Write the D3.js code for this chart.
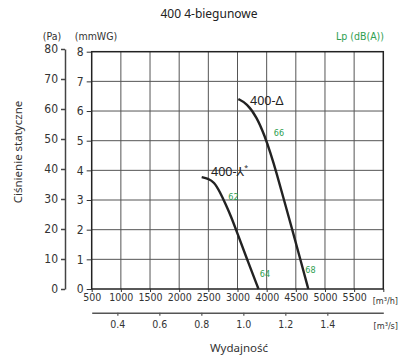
<!DOCTYPE html>
<html><head><meta charset="utf-8">
<script src="https://cdn.jsdelivr.net/npm/d3@7/dist/d3.min.js"></script>
<style>
html,body{margin:0;padding:0;background:#fff;}
svg{display:block;}
.num{font-family:"DejaVu Sans Condensed","DejaVu Sans",sans-serif;}
.lbl{font-family:"Noto Sans","Open Sans",sans-serif;}
</style></head><body>
<svg id="c" width="409" height="360"></svg>
<script>
// ---- data ----
const title = "400 4-biegunowe";
const flowTicks = [1000,1500,2000,2500,3000,3500,4000,4500,5000,5500,6000];
const flowTickLabels = ["500","1000","1500","2000","2500","3000","4000","4500","5000","5500",""];
const flowSecTicks = [0.4,0.6,0.8,1.0,1.2,1.4];
const paTicks = [0,10,20,30,40,50,60,70,80];
const mmTicks = [0,1,2,3,4,5,6,7,8];
// curve 400-Δ : flow m3/h, pressure Pa
const deltaFlow = [3514,3658,3829,3971,4057,4172,4297,4440,4580,4714];
const deltaPa   = [63.3,61.9,57.4,50.8,45.8,38.6,29.7,19.7,9.7,0];
// curve 400-⅄*
const starFlow = [2886,2994,3097,3200,3303,3389,3486,3658,3860];
const starPa   = [37.3,36.8,35.7,32.3,28.0,24.2,19.2,10.2,0];
// noise labels Lp dB(A): flow, Pa
const lpText = ["66","62","64","68"];
const lpFlow = [4212,3431,3971,4752];
const lpPa   = [51.9,30.8,5.2,6.3];

// ---- layout ----
const svg = d3.select("#c");
const L=91.7, R=383.3, B=289, T=51.7;
const txt = "#333", green = "#2e9e50";
const x = d3.scaleLinear().domain([1000,6000]).range([L,R]);
const x2 = d3.scaleLinear().domain([1000/3600,6000/3600]).range([L,R]);
const yPa = d3.scaleLinear().domain([0,80]).range([B,49]);
const yMm = d3.scaleLinear().domain([0,8]).range([B,T]);

// grid
const g = svg.append("g");
g.selectAll("line.v").data(flowTicks.slice(1,-1)).join("line")
  .attr("x1",d=>x(d)).attr("x2",d=>x(d)).attr("y1",T).attr("y2",B)
  .attr("stroke","#555").attr("stroke-width",1);
g.selectAll("line.h").data(mmTicks.slice(1,-1)).join("line")
  .attr("x1",L).attr("x2",R).attr("y1",d=>yMm(d)).attr("y2",d=>yMm(d))
  .attr("stroke","#555").attr("stroke-width",1);
g.append("rect").attr("x",L).attr("y",T).attr("width",R-L).attr("height",B-T)
  .attr("fill","none").attr("stroke","#222").attr("stroke-width",1.5);

// bottom axis (m3/h)
const ax = d3.axisBottom(x).tickValues(flowTicks).tickSize(3).tickPadding(3)
  .tickFormat((d,i)=>flowTickLabels[i]);
const axg = svg.append("g").attr("transform",`translate(0,${B})`).call(ax);
axg.select(".domain").remove();
axg.selectAll(".tick line").attr("stroke","#333");
axg.selectAll("text").attr("class","num").attr("font-size",10.5).style("fill",txt).attr("dy","0.6em");

// secondary axis (m3/s)
const ax2 = d3.axisBottom(x2).tickValues(flowSecTicks).tickSize(3).tickSizeOuter(0).tickPadding(4)
  .tickFormat(d3.format(".1f"));
const ax2g = svg.append("g").attr("transform",`translate(0,312.7)`).call(ax2);
ax2g.select(".domain").attr("stroke","#555").attr("stroke-width",1.5);
ax2g.selectAll(".tick line").attr("stroke","#555").attr("stroke-width",1.2);
ax2g.selectAll("text").attr("class","num").attr("font-size",10.5).style("fill",txt).attr("dy","0.75em");

// mmWG axis
const aym = d3.axisLeft(yMm).tickValues(mmTicks).tickSize(5).tickPadding(3);
const aymg = svg.append("g").attr("transform",`translate(${L},0)`).call(aym);
aymg.select(".domain").remove();
aymg.selectAll(".tick line").attr("stroke","#333");
aymg.selectAll("text").attr("class","num").attr("font-size",12).style("fill",txt);

// Pa axis
const ayp = d3.axisLeft(yPa).tickValues(paTicks).tickSize(4).tickSizeOuter(0).tickPadding(3);
const aypg = svg.append("g").attr("transform",`translate(65,0)`).call(ayp);
aypg.select(".domain").attr("stroke","#444").attr("stroke-width",1.5);
aypg.selectAll(".tick line").attr("stroke","#444").attr("stroke-width",1.5);
aypg.selectAll("text").attr("class","num").attr("font-size",12).style("fill",txt);

// curves
const line = d3.line().x(d=>x(d[0])).y(d=>yPa(d[1])).curve(d3.curveBasis);
svg.append("path").attr("d",line(d3.zip(deltaFlow,deltaPa)))
  .attr("fill","none").attr("stroke","#222").attr("stroke-width",2.4);
svg.append("path").attr("d",line(d3.zip(starFlow,starPa)))
  .attr("fill","none").attr("stroke","#222").attr("stroke-width",2.4);

// curve labels
svg.append("text").attr("class","lbl").attr("x",250).attr("y",105).attr("font-size",12.5)
  .style("fill","#222").text("400-Δ");
const st = svg.append("text").attr("class","lbl").attr("x",211).attr("y",176).attr("font-size",12.5).style("fill","#222");
st.append("tspan").text("400-");
st.append("tspan").attr("font-family","DejaVu Sans").text("⅄");
st.append("tspan").attr("font-size",7).attr("dy",-6).text("*");

// Lp labels
svg.selectAll("text.lp").data(lpText).join("text")
  .attr("class","num lp").attr("font-size",9).style("fill",green)
  .attr("text-anchor","middle")
  .attr("x",(d,i)=>x(lpFlow[i])).attr("y",(d,i)=>yPa(lpPa[i])).attr("dy","0.35em").text(d=>d);

// titles
svg.append("text").attr("class","lbl").attr("x",209).attr("y",17.5).attr("text-anchor","middle")
  .attr("font-size",12).style("fill","#222").text(title);
svg.append("text").attr("class","num").attr("x",52).attr("y",40).attr("text-anchor","middle").attr("font-size",10.5).style("fill",txt).text("(Pa)");
svg.append("text").attr("class","num").attr("x",96).attr("y",40).attr("text-anchor","middle").attr("font-size",10.5).style("fill",txt).text("(mmWG)");
svg.append("text").attr("class","num").attr("x",384).attr("y",40).attr("text-anchor","end").attr("font-size",10.5)
  .style("fill",green).text("Lp (dB(A))");
svg.append("text").attr("class","num").attr("x",398).attr("y",304).attr("text-anchor","end").attr("font-size",9).style("fill",txt).text("[m³/h]");
svg.append("text").attr("class","num").attr("x",398).attr("y",328.5).attr("text-anchor","end").attr("font-size",9).style("fill",txt).text("[m³/s]");
svg.append("text").attr("class","lbl").attr("x",239).attr("y",352).attr("text-anchor","middle").attr("font-size",11.5).style("fill",txt).text("Wydajność");
svg.append("text").attr("class","lbl").attr("transform","translate(22,152) rotate(-90)").attr("text-anchor","middle")
  .attr("font-size",11.5).style("fill",txt).text("Ciśnienie statyczne");
</script></body></html>
